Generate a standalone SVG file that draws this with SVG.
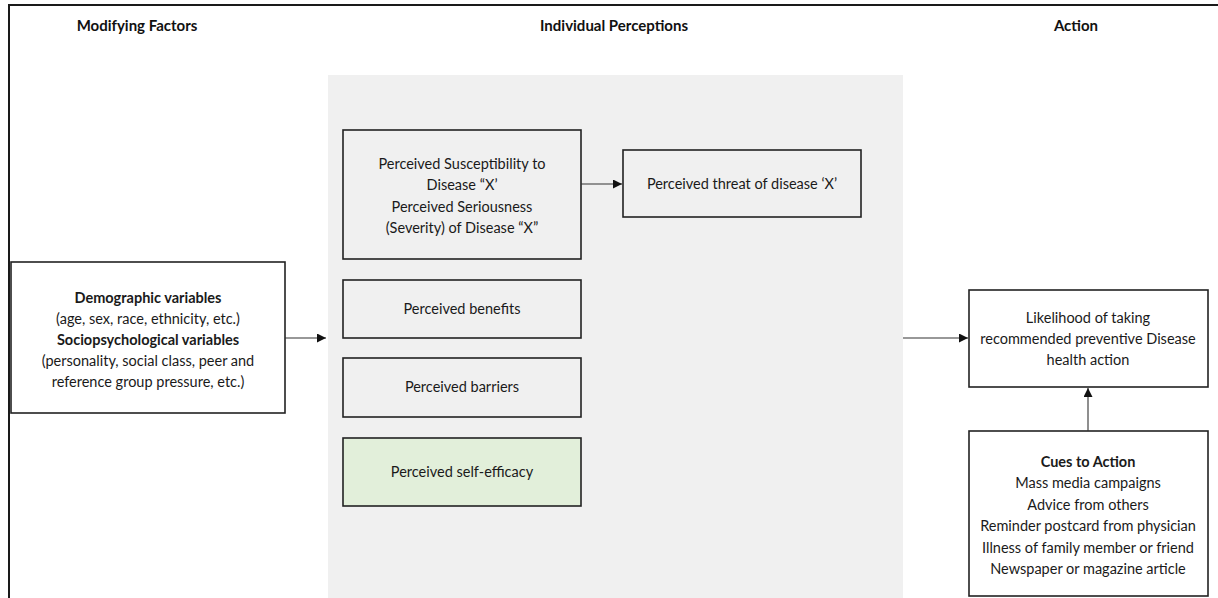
<svg xmlns="http://www.w3.org/2000/svg" width="1218" height="598" viewBox="0 0 1218 598">
  <style>
    .box { fill: #ffffff; stroke: #222222; stroke-width: 1.6; }
    .inner { fill: #f0f0f0; stroke: #222222; stroke-width: 1.6; }
    .green { fill: #e2efda; stroke: #222222; stroke-width: 1.6; }
    .t { font-family: Lato, "Liberation Sans", sans-serif; font-size: 14.5px; fill: #1a1a1a; text-anchor: middle; }
    .b { font-weight: bold; }
    .h { font-family: Lato, "Liberation Sans", sans-serif; font-size: 15px; font-weight: bold; fill: #111111; text-anchor: middle; }
    .link { stroke: #333333; stroke-width: 1.1; fill: none; marker-end: url(#arrow); }
  </style>
  <defs>
    <marker id="arrow" viewBox="0 0 10 10" refX="10" refY="5" markerWidth="9" markerHeight="9" markerUnits="userSpaceOnUse" orient="auto">
      <path d="M0,0 L10,5 L0,10 z" fill="#111111"/>
    </marker>
  </defs>

  <!-- page frame -->
  <rect x="0" y="0" width="1218" height="598" fill="#ffffff"/>
  <rect x="9" y="5" width="1230" height="620" fill="none" stroke="#1a1a1a" stroke-width="2"/>

  <!-- column headings -->
  <text class="h" x="137" y="31">Modifying Factors</text>
  <text class="h" x="614" y="31">Individual Perceptions</text>
  <text class="h" x="1076" y="31">Action</text>

  <!-- perceptions panel -->
  <rect x="328" y="75" width="575" height="530" fill="#f0f0f0"/>

  <g id="modifying-factors">
    <rect class="box" x="11" y="262" width="274" height="151"/>
    <text class="t b" x="148" y="303">Demographic variables</text>
    <text class="t" x="148" y="324">(age, sex, race, ethnicity, etc.)</text>
    <text class="t b" x="148" y="345">Sociopsychological variables</text>
    <text class="t" x="148" y="366">(personality, social class, peer and</text>
    <text class="t" x="148" y="387">reference group pressure, etc.)</text>
  </g>

  <g id="susceptibility">
    <rect class="inner" x="343" y="130" width="238" height="129"/>
    <text class="t" x="462" y="169">Perceived Susceptibility to</text>
    <text class="t" x="462" y="190">Disease “X’</text>
    <text class="t" x="462" y="212">Perceived Seriousness</text>
    <text class="t" x="462" y="233">(Severity) of Disease “X”</text>
  </g>

  <g id="threat">
    <rect class="inner" x="623" y="150" width="238" height="67"/>
    <text class="t" x="742" y="189">Perceived threat of disease ‘X’</text>
  </g>

  <g id="benefits">
    <rect class="inner" x="343" y="280" width="238" height="58"/>
    <text class="t" x="462" y="314">Perceived benefits</text>
  </g>

  <g id="barriers">
    <rect class="inner" x="343" y="358" width="238" height="59"/>
    <text class="t" x="462" y="392">Perceived barriers</text>
  </g>

  <g id="self-efficacy">
    <rect class="green" x="343" y="438" width="238" height="68"/>
    <text class="t" x="462" y="477">Perceived self-efficacy</text>
  </g>

  <g id="likelihood">
    <rect class="box" x="969" y="290" width="239" height="97"/>
    <text class="t" x="1088" y="323">Likelihood of taking</text>
    <text class="t" x="1088" y="344">recommended preventive Disease</text>
    <text class="t" x="1088" y="365">health action</text>
  </g>

  <g id="cues">
    <rect class="box" x="969" y="431" width="239" height="165"/>
    <text class="t b" x="1088" y="467">Cues to Action</text>
    <text class="t" x="1088" y="488">Mass media campaigns</text>
    <text class="t" x="1088" y="510">Advice from others</text>
    <text class="t" x="1088" y="531">Reminder postcard from physician</text>
    <text class="t" x="1088" y="553">Illness of family member or friend</text>
    <text class="t" x="1088" y="574">Newspaper or magazine article</text>
  </g>

  <g id="connectors">
    <line class="link" x1="285" y1="338" x2="326" y2="338"/>
    <line class="link" x1="581" y1="184" x2="622" y2="184"/>
    <line class="link" x1="903" y1="338" x2="968" y2="338"/>
    <line class="link" x1="1088" y1="431" x2="1088" y2="388"/>
  </g>
</svg>
